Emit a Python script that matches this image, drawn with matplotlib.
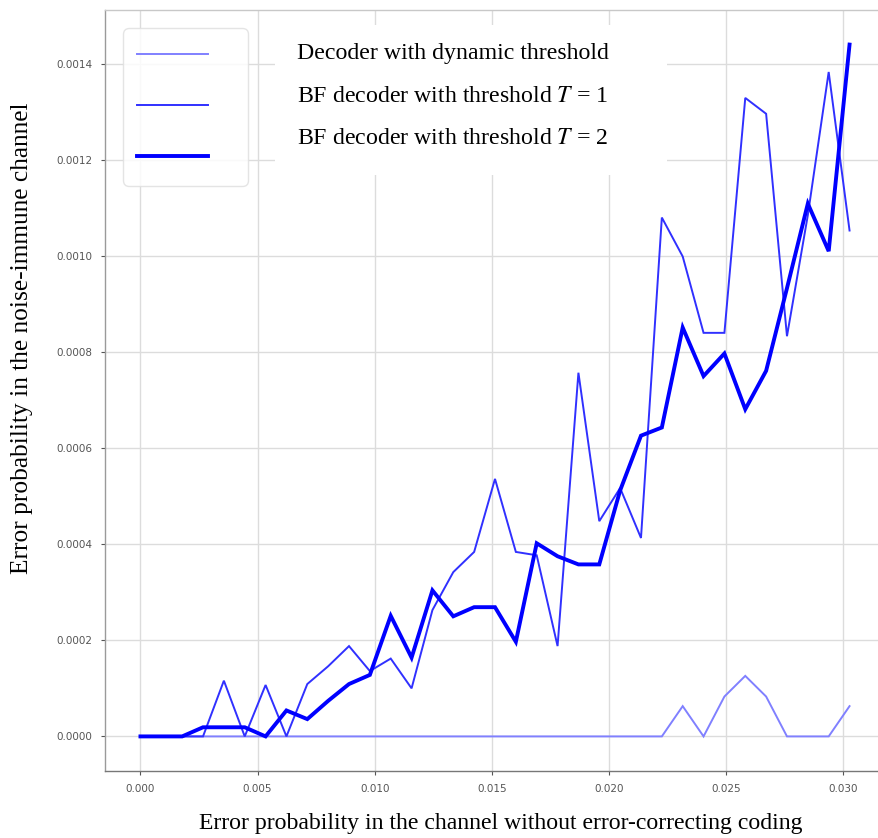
import matplotlib
matplotlib.use("Agg")
import matplotlib.pyplot as plt
from matplotlib.patches import Rectangle
from matplotlib.lines import Line2D

# Channel error probability without error-correcting coding
p_channel = [0.0, 0.00089, 0.00178, 0.00267, 0.00356, 0.00445, 0.00534,
             0.00623, 0.00712, 0.00801, 0.0089, 0.00979, 0.01068, 0.01157,
             0.01246, 0.01335, 0.01424, 0.01513, 0.01602, 0.01691, 0.0178,
             0.01869, 0.01958, 0.02047, 0.02136, 0.02225, 0.02314, 0.02403,
             0.02492, 0.02581, 0.0267, 0.02759, 0.02848, 0.02937, 0.03026]

# Residual error probability (units of 1e-4) for each decoder
dynamic_e4 = [0, 0, 0, 0, 0, 0, 0, 0, 0, 0, 0, 0, 0, 0, 0, 0, 0, 0, 0, 0,
              0, 0, 0, 0, 0, 0, 0.63, 0, 0.83, 1.26, 0.83, 0, 0, 0, 0.63]
bf_t1_e4 = [0, 0, 0, 0, 1.16, 0, 1.07, 0, 1.09, 1.46, 1.88, 1.36, 1.62, 1.0,
            2.63, 3.42, 3.84, 5.36, 3.84, 3.77, 1.88, 7.57, 4.48, 5.17, 4.13,
            10.80, 9.99, 8.40, 8.40, 13.29, 12.96, 8.33, 10.85, 13.83, 10.53]
bf_t2_e4 = [0, 0, 0, 0.19, 0.19, 0.19, 0, 0.54, 0.36, 0.74, 1.09, 1.28, 2.51,
            1.64, 3.04, 2.50, 2.69, 2.69, 1.97, 4.02, 3.75, 3.58, 3.58, 5.12,
            6.26, 6.43, 8.51, 7.50, 7.97, 6.81, 7.61, 9.33, 11.09, 10.10, 14.40]

labels = ["Decoder with dynamic threshold",
          "BF decoder with threshold $T$ = 1",
          "BF decoder with threshold $T$ = 2"]

dynamic = [v * 1e-4 for v in dynamic_e4]
bf_t1 = [v * 1e-4 for v in bf_t1_e4]
bf_t2 = [v * 1e-4 for v in bf_t2_e4]

plt.rcParams["mathtext.fontset"] = "stix"

W, H = 879, 838
AX_L, AX_T, AX_W, AX_H = 105, 10, 780, 761   # axes box in pixels
fig = plt.figure(figsize=(W / 100, H / 100), dpi=100)
ax = fig.add_axes([AX_L / W, 1 - (AX_T + AX_H) / H, AX_W / W, AX_H / H])

styles = [dict(color="#8080ff", lw=1.4),
          dict(color="#3030ff", lw=1.4),
          dict(color="#0000ff", lw=2.8)]
for ys, st in zip([dynamic, bf_t1, bf_t2], styles):
    ax.plot(p_channel, ys, solid_joinstyle="miter", zorder=3, **st)

ax.grid(True, color="#dcdcdc", lw=1.0, zorder=0)
ax.set_axisbelow(True)
for side, sp in ax.spines.items():
    sp.set_color("#c8c8c8")
    sp.set_linewidth(1.0)
ax.spines["left"].set_color("#9a9a9a")
ax.spines["bottom"].set_color("#777777")
ax.tick_params(axis="both", labelsize=7.5, colors="#555555", length=3,
               width=0.8, pad=6)


def ax_frac(px, py):
    return (px - AX_L) / AX_W, 1 - (py - AX_T) / AX_H


# Legend box with line samples only
handles = [Line2D([], [], **st) for st in styles]
leg = ax.legend(handles, ["", "", ""], loc="upper left",
                bbox_to_anchor=ax_frac(123, 28),
                fontsize=20, handlelength=2.55, labelspacing=0.83,
                borderpad=0.5, handletextpad=0.95, borderaxespad=0,
                fancybox=True, framealpha=0.85, edgecolor="#e0e0e0")
leg.get_frame().set_linewidth(1.0)

# White panel holding the legend descriptions
x0, y1 = ax_frac(275, 175)
x1, y0 = ax_frac(667, 25)
ax.add_patch(Rectangle((x0, y1), x1 - x0, y0 - y1, transform=ax.transAxes,
                       facecolor="white", edgecolor="none", zorder=2))
for lbl, ypix in zip(labels, [53, 96, 138]):
    fig.text(297 / W, 1 - ypix / H, lbl, family="Liberation Serif",
             fontsize=17.2, va="center", ha="left", zorder=5)

fig.text(501 / W, 1 - 823 / H,
         "Error probability in the channel without error-correcting coding",
         family="Liberation Serif", fontsize=17.1, ha="center", va="center")
fig.text(22 / W, 1 - 338 / H,
         "Error probability in the noise-immune channel",
         family="Liberation Serif", fontsize=18.3, ha="center", va="center",
         rotation=90)

fig.savefig("out.png", dpi=100, facecolor="white")
